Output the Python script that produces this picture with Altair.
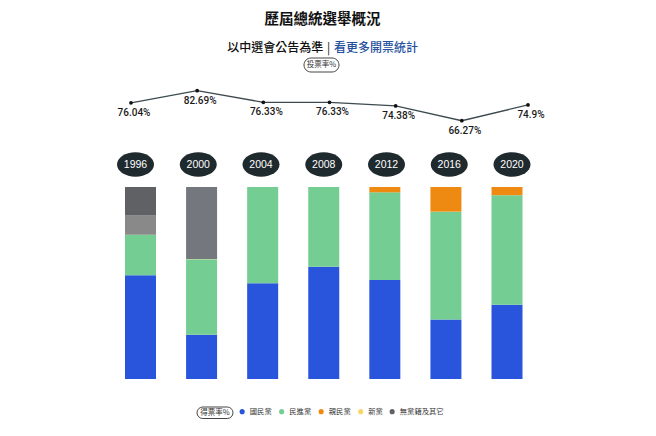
import altair as alt
import pandas as pd

# ---------------- data ----------------
years = [1996, 2000, 2004, 2008, 2012, 2016, 2020]
turnout = [76.04, 82.69, 76.33, 76.33, 74.38, 66.27, 74.9]

kmt = [54.00, 23.10, 49.89, 58.45, 51.60, 31.04, 38.61]
dpp = [21.13, 39.30, 50.11, 41.55, 45.63, 56.12, 57.13]
pfp = [0, 0, 0, 0, 2.77, 12.84, 4.26]
newp = [0, 0.13, 0, 0, 0, 0, 0]
ind_light = [9.98, 0, 0, 0, 0, 0, 0]
ind_dark = [14.90, 0, 0, 0, 0, 0, 0]
ind_2000 = [0, 37.47, 0, 0, 0, 0, 0]

parties = ["國民黨", "民進黨", "親民黨", "新黨", "無黨籍及其它"]
keys = ["國民黨", "民進黨", "親民黨", "新黨", "無黨籍（乙）", "無黨籍及其它", "無黨籍（丙）"]
key_colors = ["#2855dc", "#74cd92", "#ee8a12", "#f7d66a", "#898989", "#5f6165", "#74777e"]
series = [kmt, dpp, pfp, newp, ind_light, ind_dark, ind_2000]

rows = []
for k_i, (k, vals) in enumerate(zip(keys, series)):
    for y, v in zip(years, vals):
        if v > 0:
            rows.append({"year": y, "key": k, "pct": v, "ord": k_i})
bars_df = pd.DataFrame(rows)

yr_df = pd.DataFrame({
    "year": years,
    "ylab": [str(y) for y in years],
    "turnout": turnout,
    "tlab": [f"{v}%" for v in turnout],
})

CJK = "Noto Sans CJK TC"

xb = alt.Scale(domain=[1996, 2020], range=[127.5, 504])
xl = alt.Scale(domain=[1996, 2020], range=[123, 520])
yb = alt.Scale(domain=[0, 100], range=[371, 179], nice=False)
yl = alt.Scale(domain=[60, 90], range=[124.2, 69.3], nice=False, zero=False)

bars = alt.Chart(bars_df).mark_bar(size=31).encode(
    x=alt.X("year:Q", scale=xb, axis=None),
    y=alt.Y("pct:Q", stack="zero", scale=yb, axis=None),
    color=alt.Color(
        "key:N",
        scale=alt.Scale(domain=keys, range=key_colors),
        legend=alt.Legend(
            orient="none", legendX=230.5, legendY=400, direction="horizontal",
            title=None, values=parties, symbolType="circle", symbolSize=26,
            labelFont=CJK, labelFontSize=7.3, labelColor="#333",
            columnPadding=5.5, labelOffset=4, symbolStrokeWidth=0, padding=0,
        ),
    ),
    order=alt.Order("ord:Q"),
)

ellipse_path = "M -1 0 A 1 0.66 0 1 0 1 0 A 1 0.66 0 1 0 -1 0 Z"
ovals = alt.Chart(yr_df).mark_point(
    shape=ellipse_path, size=1369, filled=True, color="#1f2a2e", opacity=1
).encode(x=alt.X("year:Q", scale=xb, axis=None), y=alt.value(156.5))

ylabels = alt.Chart(yr_df).mark_text(
    color="white", fontSize=10.5, font="Liberation Sans", baseline="middle"
).encode(x=alt.X("year:Q", scale=xb, axis=None), y=alt.value(156.5), text="ylab:N")

line = alt.Chart(yr_df).mark_line(color="#3d4b50", strokeWidth=1.3).encode(
    x=alt.X("year:Q", scale=xl, axis=None),
    y=alt.Y("turnout:Q", scale=yl, axis=None),
)
pts = alt.Chart(yr_df).mark_point(filled=True, size=14, color="#111", opacity=1).encode(
    x=alt.X("year:Q", scale=xl, axis=None),
    y=alt.Y("turnout:Q", scale=yl, axis=None),
)
tl = alt.Chart(yr_df).mark_text(
    dy=10, dx=3, fontSize=10, font="Roboto", fontWeight=500, color="#1a1a1a",
    baseline="middle"
).encode(
    x=alt.X("year:Q", scale=xl, axis=None),
    y=alt.Y("turnout:Q", scale=yl, axis=None),
    text="tlab:N",
)

one = pd.DataFrame({"a": [0]})
title = alt.Chart(one).mark_text(
    text="歷屆總統選舉概況", font=CJK, fontSize=14.5, fontWeight="bold",
    color="#111", baseline="middle", align="center"
).encode(x=alt.value(314.5), y=alt.value(12))
sub1 = alt.Chart(one).mark_text(
    text="以中選會公告為準", font=CJK, fontSize=12, fontWeight=500,
    color="#111", baseline="middle", align="right"
).encode(x=alt.value(315.3), y=alt.value(40))
sep = alt.Chart(one).mark_text(
    text="|", font=CJK, fontSize=12, color="#111", baseline="middle", align="center"
).encode(x=alt.value(320.5), y=alt.value(40))
sub2 = alt.Chart(one).mark_text(
    text="看更多開票統計", font=CJK, fontSize=12, fontWeight=500,
    color="#24509e", baseline="middle", align="left"
).encode(x=alt.value(326), y=alt.value(40))

pill1 = alt.Chart(one).mark_rect(
    cornerRadius=7, fill="white", stroke="#444", strokeWidth=1
).encode(x=alt.value(296), x2=alt.value(331), y=alt.value(50), y2=alt.value(64))
pill1t = alt.Chart(one).mark_text(
    text="投票率%", font=CJK, fontSize=7.5, color="#333", baseline="middle"
).encode(x=alt.value(313.5), y=alt.value(57))

pill2 = alt.Chart(one).mark_rect(
    cornerRadius=6, fill="white", stroke="#444", strokeWidth=1
).encode(x=alt.value(189), x2=alt.value(225), y=alt.value(399), y2=alt.value(410.5))
pill2t = alt.Chart(one).mark_text(
    text="得票率%", font=CJK, fontSize=7.5, color="#333", baseline="middle"
).encode(x=alt.value(207), y=alt.value(404.8))

chart = alt.layer(
    bars, ovals, ylabels, line, pts, tl,
    title, sub1, sep, sub2, pill1, pill1t, pill2, pill2t,
).resolve_scale(x="independent", y="independent").properties(
    width=640, height=420, autosize=alt.AutoSizeParams(type="none"), padding=0
).configure_view(stroke=None)

chart.save("out.html", embed_options={"renderer": "svg", "actions": False})
